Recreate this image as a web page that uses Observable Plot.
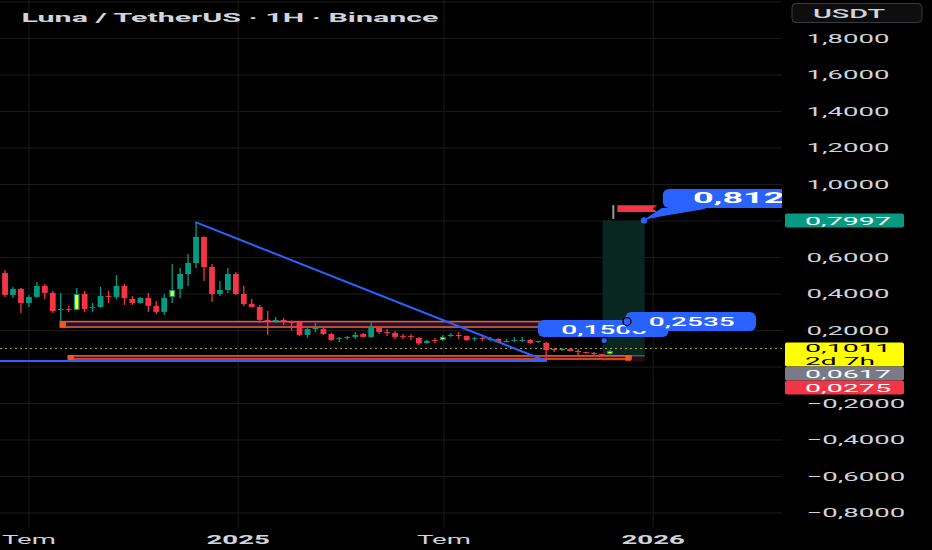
<!DOCTYPE html>
<html>
<head>
<meta charset="utf-8">
<script src="https://cdn.jsdelivr.net/npm/d3@7"></script>
<script src="https://cdn.jsdelivr.net/npm/@observablehq/plot@0.6"></script>
<style>
html, body { margin: 0; padding: 0; background: #000; }
body { width: 932px; height: 550px; overflow: hidden; }
#chart svg { display: block; }
</style>
</head>
<body>
<div id="chart"></div>
<script>
// ---------------- data ----------------
const title = "Luna / TetherUS · 1H · Binance";
const currency = "USDT";

const dates = [
  "2024-06-03","2024-06-10","2024-06-17","2024-06-24","2024-07-01","2024-07-08","2024-07-15","2024-07-22","2024-07-29",
  "2024-08-05","2024-08-12","2024-08-19","2024-08-26","2024-09-02","2024-09-09","2024-09-16","2024-09-23","2024-09-30",
  "2024-10-07","2024-10-14","2024-10-21","2024-10-28","2024-11-04","2024-11-11","2024-11-18","2024-11-25","2024-12-02",
  "2024-12-09","2024-12-16","2024-12-23","2024-12-30","2025-01-06","2025-01-13","2025-01-20","2025-01-27","2025-02-03",
  "2025-02-10","2025-02-17","2025-02-24","2025-03-03","2025-03-10","2025-03-17","2025-03-24","2025-03-31","2025-04-07",
  "2025-04-14","2025-04-21","2025-04-28","2025-05-05","2025-05-12","2025-05-19","2025-05-26","2025-06-02","2025-06-09",
  "2025-06-16","2025-06-23","2025-06-30","2025-07-07","2025-07-14","2025-07-21","2025-07-28","2025-08-04","2025-08-11",
  "2025-08-18","2025-08-25","2025-09-01","2025-09-08","2025-09-15","2025-09-22","2025-09-29","2025-10-06","2025-10-13",
  "2025-10-20","2025-10-27","2025-11-03","2025-11-10","2025-11-17","2025-11-24"
];
const opens = [
  .567,.512,.392,.425,.348,.381,.441,.403,.310,.315,.310,.397,.321,.326,.386,.381,.441,.370,.348,.375,
  .332,.299,.381,.425,.507,.567,.710,.545,.397,.419,.507,.397,.342,.326,.255,.249,.255,.249,.244,.173,
  .205,.205,.178,.151,.156,.162,.178,.162,.211,.189,.184,.167,.167,.156,.129,.145,.145,.167,.173,.167,
  .151,.156,.145,.151,.134,.140,.140,.145,.134,.129,.096,.090,.096,.085,.079,.074,.068,.068
];
const highs = [
  .584,.529,.436,.430,.392,.463,.452,.414,.403,.332,.430,.414,.348,.436,.414,.501,.452,.386,.381,.403,
  .359,.397,.562,.540,.616,.792,.712,.562,.468,.540,.518,.441,.370,.337,.304,.271,.266,.252,.247,.216,
  .238,.216,.184,.162,.167,.189,.184,.244,.216,.205,.195,.178,.178,.162,.145,.156,.173,.184,.189,.170,
  .162,.167,.162,.154,.151,.162,.162,.151,.140,.134,.101,.101,.098,.096,.081,.079,.070,.090
];
const lows = [
  .501,.381,.375,.293,.326,.378,.370,.293,.244,.299,.307,.299,.299,.321,.348,.370,.337,.337,.345,.299,
  .288,.282,.348,.375,.441,.540,.468,.353,.386,.403,.392,.332,.323,.238,.173,.238,.227,.195,.167,.156,
  .189,.173,.140,.134,.145,.151,.159,.156,.178,.167,.151,.151,.145,.118,.123,.129,.140,.162,.151,.140,
  .140,.140,.140,.131,.131,.134,.134,.123,.129,.030,.079,.085,.082,.063,.068,.057,.060,.057
];
const closes = [
  .512,.392,.425,.348,.381,.441,.403,.304,.315,.310,.397,.315,.326,.386,.381,.441,.375,.348,.375,.332,
  .299,.375,.419,.507,.567,.710,.545,.397,.419,.507,.397,.342,.326,.255,.249,.255,.249,.238,.173,.205,
  .211,.178,.145,.156,.162,.173,.162,.211,.189,.184,.162,.162,.162,.126,.140,.140,.162,.173,.167,.145,
  .156,.151,.151,.134,.140,.145,.145,.129,.140,.090,.090,.096,.085,.079,.074,.068,.063,.085
];
const highlighted = [10, 22, 45, 56, 77];

const yTicks = [-0.8, -0.6, -0.4, -0.2, 0, 0.2, 0.4, 0.6, 0.8, 1.0, 1.2, 1.4, 1.6, 1.8];
const yGridExtra = [2.0];
const xTickDates = ["2024-07-01", "2025-01-01", "2025-07-01", "2026-01-01"];
const xTickLabels = ["Tem", "2025", "Tem", "2026"];
const xTickBold = [false, true, false, true];

// drawings on the chart (data units)
const trendline = [{date: "2024-11-25", value: 0.792}, {date: "2025-09-29", value: 0.033}];
const levelLine = [{from: "2024-01-01", to: "2025-09-29", value: 0.033}];
const zones = [
  {from: "2024-07-29", to: "2025-12-13", low: 0.216, high: 0.246},
  {from: "2024-08-05", to: "2025-12-13", low: 0.041, high: 0.058}
];
const zoneHandles = [
  {date: "2024-07-31", value: 0.231},
  {date: "2024-08-07", value: 0.0495},
  {date: "2025-12-10", value: 0.0495}
];
const position = [{from: "2025-11-18", to: "2025-12-25", entry: 0.0617, target: 0.7997, stop: 0.0275}];
const lastPrice = 0.1011;
const countdown = "2d 7h";
const flagPole = [{date: "2025-11-27", low: 0.808, high: 0.884}];
const flagShape = [
  {value: 0.884, from: "2025-12-01", to: "2026-01-05"},
  {value: 0.865, from: "2025-12-01", to: "2026-01-01"},
  {value: 0.847, from: "2025-12-01", to: "2026-01-05"}
];
const callouts = [
  {label: "0,8123", from: "2026-01-10", to: "2026-09-01", low: 0.868, high: 0.973, at: "2026-02-05", y: 0.921, anchor: "start", weight: "bold", size: 14},
  {label: "0,1500", from: "2025-09-22", to: "2026-01-15", low: 0.162, high: 0.255, at: "2025-11-19", y: 0.203, anchor: "middle", weight: "500", size: 13},
  {label: "0,2535", from: "2025-12-08", to: "2026-04-02", low: 0.195, high: 0.299, at: "2026-02-04", y: 0.249, anchor: "middle", weight: "500", size: 13}
];
const calloutTail = [
  {date: "2025-12-24", low: 0.803, high: 0.803},
  {date: "2026-01-09", low: 0.823, high: 0.868},
  {date: "2026-02-16", low: 0.863, high: 0.868}
];
const calloutDots = [
  {date: "2025-12-24", value: 0.803, ring: false},
  {date: "2025-11-19", value: 0.145, ring: true}
];
const calloutRing = [{date: "2025-12-09", value: 0.249}];
const priceLabels = [
  {value: 0.7997, extra: null, fill: "#089981", color: "#ffffff"},
  {value: lastPrice, extra: countdown, fill: "#ffff00", color: "#000000"},
  {value: 0.0617, extra: null, fill: "#787b86", color: "#ffffff"},
  {value: 0.0275, extra: null, fill: "#f23645", color: "#ffffff"}
];

// ---------------- build ----------------
const D = s => new Date(s);
const green = "#089981", red = "#f23645", blue = "#2962ff", orange = "#f5581b";
const fmt = v => d3.format(".4f")(v).replace(".", ",");

const candles = dates.map((d, i) => ({
  date: D(d), open: opens[i], high: highs[i], low: lows[i], close: closes[i],
  top: Math.max(opens[i], closes[i]), bot: Math.min(opens[i], closes[i]),
  up: closes[i] >= opens[i], hl: highlighted.includes(i)
}));
const hlCandles = candles.filter(d => d.hl);

const marks = [
  Plot.ruleY([...yTicks, ...yGridExtra], {stroke: "#1c1c1c", strokeWidth: 1}),
  Plot.ruleX(xTickDates.map(D), {stroke: "#1c1c1c", strokeWidth: 1}),
  // long position zones
  Plot.rectY(position, {x1: d => D(d.from), x2: d => D(d.to), y1: "entry", y2: "target", fill: "#092620"}),
  Plot.rectY(position, {x1: d => D(d.from), x2: d => D(d.to), y1: "stop", y2: "entry", fill: "#2a0c10"}),
  Plot.ruleY(position, {x1: d => D(d.from), x2: d => D(d.to), y: "entry", stroke: "#50535e", strokeWidth: 1.5}),
  // orange rectangles
  Plot.rectY(zones, {x1: d => D(d.from), x2: d => D(d.to), y1: "low", y2: "high", fill: "#1a1446", stroke: orange, strokeWidth: 1.6}),
  Plot.dot(zoneHandles, {x: d => D(d.date), y: "value", symbol: "square", r: 3.2, fill: orange}),
  // last price dotted line
  Plot.ruleY([lastPrice], {stroke: "#a8a83c", strokeDasharray: "2,3", strokeWidth: 1}),
  // candles
  Plot.ruleX(candles, {x: "date", y1: "low", y2: "high", stroke: d => d.up ? green : red, strokeWidth: 1.3}),
  Plot.ruleX(candles, {x: "date", y1: "top", y2: "bot", stroke: d => d.up ? green : red, strokeWidth: 5.8}),
  Plot.ruleX(hlCandles, {x: "date", y1: "top", y2: "bot", stroke: "#ffff00", strokeWidth: 3.2, insetTop: 1, insetBottom: 1}),
  // blue lines
  Plot.ruleY(levelLine, {x1: d => D(d.from), x2: d => D(d.to), y: "value", stroke: blue, strokeWidth: 2, clip: true}),
  Plot.line(trendline, {x: d => D(d.date), y: "value", stroke: blue, strokeWidth: 2}),
  // flag
  Plot.ruleX(flagPole, {x: d => D(d.date), y1: "low", y2: "high", stroke: "#9598a1", strokeWidth: 2}),
  Plot.areaX(flagShape, {y: "value", x1: d => D(d.from), x2: d => D(d.to), fill: red}),
  // 0,8123 callout tail
  Plot.areaY(calloutTail, {x: d => D(d.date), y1: "low", y2: "high", fill: blue}),
];
callouts.forEach(c => {
  marks.push(Plot.rectY([c], {x1: d => D(d.from), x2: d => D(d.to), y1: "low", y2: "high", fill: blue, rx: 6, clip: true}));
  marks.push(Plot.text([c], {x: d => D(d.at), y: "y", text: "label", fill: "#ffffff", textAnchor: c.anchor, fontWeight: c.weight, fontSize: c.size, clip: true}));
});
marks.push(
  Plot.dot(calloutRing, {x: d => D(d.date), y: "value", r: 4, fill: blue, stroke: "#000", strokeWidth: 1.3}),
  Plot.dot(calloutDots, {x: d => D(d.date), y: "value", r: 3.2, fill: blue, stroke: d => d.ring ? "#000" : "none", strokeWidth: 1.2}),
  // axes
  Plot.axisY(yTicks, {anchor: "right", tickSize: 0, tickPadding: 24, tickFormat: fmt, fontSize: 13, color: "#d1d4dc", label: null}),
  Plot.axisX(xTickDates.filter((d, i) => !xTickBold[i]).map(D), {tickSize: 0, tickPadding: 6, fontSize: 13, color: "#d1d4dc", label: null,
    tickFormat: d => xTickLabels[xTickDates.indexOf(d.toISOString().slice(0, 10))]}),
  Plot.axisX(xTickDates.filter((d, i) => xTickBold[i]).map(D), {tickSize: 0, tickPadding: 6, fontSize: 13, fontWeight: "bold", color: "#d1d4dc", label: null,
    tickFormat: d => xTickLabels[xTickDates.indexOf(d.toISOString().slice(0, 10))]}),
  Plot.text([title], {frameAnchor: "top-left", dx: 21, dy: 12, textAnchor: "start", fontWeight: "bold", fontSize: 13, fill: "#d1d4dc"})
);

const chart = Plot.plot({
  width: 932, height: 550,
  marginLeft: 0, marginRight: 150, marginTop: 0, marginBottom: 22,
  style: {background: "#000", color: "#d1d4dc", fontFamily: "Roboto, 'DejaVu Sans', sans-serif", fontSize: "13px"},
  x: {type: "utc", domain: [D("2024-06-06"), D("2026-04-24T19:00:00Z")]},
  y: {domain: [-0.885, 2.008]},
  marks
});
document.getElementById("chart").appendChild(chart);

// ---------------- right price scale labels (positioned with Plot's y scale) ----------------
const yS = chart.scale("y");
const svg = d3.select(chart);
const g = svg.append("g")
  .attr("font-family", "Roboto, 'DejaVu Sans', sans-serif")
  .attr("font-size", 13)
  .attr("text-anchor", "start")
  .style("text-anchor", "start");

// currency button
g.append("rect").attr("x", 792).attr("y", 3.5).attr("width", 130).attr("height", 19).attr("rx", 4)
  .attr("fill", "#0e0e0e").attr("stroke", "#363a45");
g.append("text").attr("x", 813).attr("y", 13).attr("dy", "0.35em").attr("fill", "#d1d4dc").attr("font-weight", "500")
  .attr("data-w", 72).text(currency);

const boxes = [];
let prevBottom = -Infinity;
priceLabels.forEach(p => {
  const yc = yS.apply(p.value);
  const h = p.extra ? 24 : 14;
  const top = Math.max(p.extra ? yc - 5.5 : yc - h / 2, prevBottom);
  prevBottom = top + h;
  boxes.push([top, top + h]);
  g.append("rect").attr("x", 785).attr("y", top).attr("width", 119).attr("height", h).attr("rx", 2).attr("fill", p.fill);
  g.append("text").attr("x", 805).attr("y", p.extra ? top + 5.8 : top + h / 2).attr("dy", "0.36em")
    .attr("font-size", 11.5).attr("fill", p.color).attr("data-w", 86).text(fmt(p.value));
  if (p.extra) {
    g.append("text").attr("x", 805).attr("y", top + 18.2).attr("dy", "0.36em")
      .attr("font-size", 11.5).attr("fill", p.color).attr("data-w", 70).text(p.extra);
  }
});

// axis tick labels hidden behind the price labels (as on the reference) are dropped
const tickTexts = chart.querySelectorAll('g[aria-label="y-axis tick label"] text');
tickTexts.forEach(t => {
  const v = +t.textContent.replace("−", "-").replace(",", ".");
  const y = yS.apply(v);
  if (boxes.some(([a, b]) => y > a - 6 && y < b + 6)) t.remove();
});

// ---------------- horizontal text stretch (reference is stretched ~2x) ----------------
const targets = {};
targets[title] = 417;
targets["0,8123"] = 112;
targets["0,2535"] = 86;
targets["0,1500"] = 86;
const allTexts = chart.querySelectorAll("text");
let K = 2.12;
allTexts.forEach(t => { if (t.textContent === "1,8000") K = 83 / t.getComputedTextLength(); });
allTexts.forEach(t => {
  const w = t.getComputedTextLength();
  if (!w) return;
  const tw = t.getAttribute("data-w") ? +t.getAttribute("data-w") : (targets[t.textContent] || w * K);
  t.setAttribute("textLength", tw);
  t.setAttribute("lengthAdjust", "spacingAndGlyphs");
});
</script>
</body>
</html>
